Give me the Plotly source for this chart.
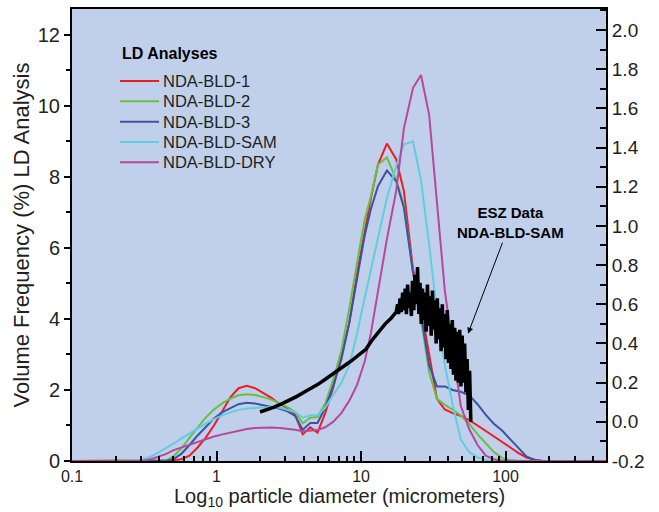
import plotly.graph_objects as go

# Laser-diffraction (LD) size bins, micrometers
diam_um = [0.1, 0.2, 0.3, 0.35, 0.4, 0.45, 0.5, 0.57, 0.65, 0.74, 0.84, 0.96,
           1.1, 1.25, 1.42, 1.62, 1.85, 2.1, 2.4, 2.75, 3.1, 3.5, 3.95, 4.45,
           5.0, 5.65, 6.4, 7.3, 8.3, 9.4, 10.6, 11.7, 13.1, 15.1, 17.5, 19.8,
           22.9, 26.0, 29.6, 33.5, 38, 43, 49, 56, 64, 73, 83, 95, 108, 123,
           140, 160, 182, 210, 250, 500]

# Volume frequency (%) for each LD analysis
bld_1 = [0, 0, 0, 0, 0, 0, 0.02, 0.05, 0.15, 0.38, 0.65, 1.0,
         1.4, 1.8, 2.05, 2.12, 2.05, 1.92, 1.78, 1.6, 1.48, 1.3, 0.75, 0.95,
         0.8, 1.35, 2.05, 2.95, 3.9, 5.3, 6.5, 7.4, 8.35, 8.94, 8.5, 7.6,
         5.4, 4.3, 3.0, 1.75, 1.45, 1.35, 1.27, 1.15, 1.0, 0.85, 0.7, 0.55, 0.38, 0.22,
         0.1, 0.03, 0, 0, 0, 0]
bld_2 = [0, 0, 0, 0, 0, 0.02, 0.12, 0.35, 0.65, 0.95, 1.22, 1.45,
         1.63, 1.76, 1.85, 1.88, 1.86, 1.8, 1.73, 1.62, 1.52, 1.38, 1.06, 1.22,
         1.24, 1.62, 2.27, 3.1, 4.3, 5.6, 6.8, 7.45, 8.35, 8.55, 7.93, 7.2,
         5.3, 4.0, 2.5, 1.75, 1.58, 1.45, 1.28, 1.05, 0.75, 0.5, 0.25, 0.08, 0.02, 0,
         0, 0, 0, 0, 0, 0]
bld_3 = [0, 0, 0, 0, 0, 0.01, 0.05, 0.2, 0.45, 0.72, 0.95, 1.2,
         1.38, 1.5, 1.6, 1.64, 1.62, 1.57, 1.53, 1.47, 1.4, 1.27, 0.88, 1.07,
         1.07, 1.5, 2.1, 2.85, 3.9, 5.1, 6.35, 7.1, 7.74, 8.18, 7.88, 7.13,
         5.3, 4.1, 2.7, 2.1, 2.1, 2.0, 1.95, 1.85, 1.6, 1.3, 1.05, 0.85, 0.6, 0.35,
         0.12, 0.03, 0, 0, 0, 0]
bld_sam = [0, 0, 0.03, 0.12, 0.25, 0.36, 0.48, 0.63, 0.78, 0.92, 1.05, 1.18,
           1.29, 1.37, 1.44, 1.48, 1.5, 1.52, 1.52, 1.5, 1.45, 1.38, 1.22, 1.29,
           1.29, 1.5, 1.85, 2.2, 2.7, 3.6, 4.6, 5.4, 6.35, 7.41, 8.3, 8.92,
           9.0, 7.9, 6.1, 4.2, 2.7, 1.6, 0.6, 0.25, 0.1, 0.03, 0, 0, 0, 0,
           0, 0, 0, 0, 0, 0]
bld_dry = [0, 0, 0, 0.05, 0.13, 0.2, 0.3, 0.38, 0.47, 0.55, 0.62, 0.69,
           0.75, 0.8, 0.85, 0.9, 0.93, 0.94, 0.94, 0.93, 0.91, 0.88, 0.84, 0.86,
           0.87, 0.95, 1.1, 1.35, 1.7, 2.15, 2.8, 3.6, 4.8, 6.25, 7.6, 9.37,
           10.51, 10.87, 9.75, 7.2, 4.8, 3.2, 1.55, 0.9, 0.45, 0.15, 0.05, 0.01, 0, 0,
           0, 0, 0, 0, 0, 0]

ld_names = ["NDA-BLD-1", "NDA-BLD-2", "NDA-BLD-3", "NDA-BLD-SAM", "NDA-BLD-DRY"]
ld_series = [bld_1, bld_2, bld_3, bld_sam, bld_dry]
ld_colors = ["#ED1C24", "#6CBD45", "#3A53A4", "#62CCE0", "#B6489C"]

# Electrical sensing zone (ESZ) measurement of NDA-BLD-SAM (right axis)
esz_um = [2.0, 2.2, 2.5, 2.8, 3.2, 3.6, 4.0, 4.5, 5.0, 5.6, 6.3, 7.0, 7.8, 8.7,
          9.7, 10.8, 12.0, 13.3, 14.7, 16.2,
          17.5, 17.9, 18.2, 18.6, 19.0, 19.4, 19.8, 20.2, 20.6, 21.0, 21.4, 21.8,
          22.3, 22.7, 23.2, 23.6, 24.1, 24.6, 25.1, 25.6, 26.1, 26.6, 27.1, 27.7,
          28.2, 28.8, 29.4, 30.0, 30.6, 31.2, 31.8, 32.4, 33.1, 33.7, 34.4, 35.1,
          35.8, 36.5, 37.2, 38.0, 38.7, 39.5, 40.3, 41.1, 41.9, 42.8, 43.6, 44.5,
          45.4, 46.3, 47.2, 48.2, 49.1, 50.1, 51.1, 52.1, 53.2, 54.2, 55.3, 56.4,
          57.5]
esz_val = [0.05, 0.06, 0.075, 0.09, 0.11, 0.13, 0.15, 0.17, 0.19, 0.215, 0.24, 0.265,
           0.29, 0.315, 0.34, 0.37, 0.42, 0.46, 0.5, 0.53,
           0.56, 0.60, 0.55, 0.63, 0.56, 0.66, 0.57, 0.68, 0.55, 0.70, 0.58, 0.66,
           0.54, 0.72, 0.57, 0.75, 0.60, 0.79, 0.55, 0.71, 0.50, 0.68, 0.52, 0.66,
           0.46, 0.70, 0.49, 0.64, 0.44, 0.67, 0.47, 0.62, 0.40, 0.63, 0.42, 0.58,
           0.36, 0.60, 0.38, 0.55, 0.32, 0.57, 0.30, 0.50, 0.27, 0.52, 0.24, 0.48,
           0.21, 0.46, 0.20, 0.47, 0.18, 0.44, 0.20, 0.40, 0.15, 0.32, 0.06, 0.26,
           0.0]

x_major = [0.1, 1, 10, 100]
x_major_text = ["0.1", "1", "10", "100"]
x_minor = [0.2, 0.3, 0.4, 0.5, 0.6, 0.7, 0.8, 0.9,
           2, 3, 4, 5, 6, 7, 8, 9,
           20, 30, 40, 50, 60, 70, 80, 90,
           200, 300, 400]

FONT = "Liberation Sans, Arial, Helvetica, sans-serif"
TEXT = "#231F20"

fig = go.Figure()
for name, vals, col in zip(ld_names, ld_series, ld_colors):
    fig.add_trace(go.Scatter(x=diam_um, y=vals, mode="lines", name=name,
                             showlegend=False,
                             line=dict(color=col, width=2)))

fig.add_trace(go.Scatter(x=esz_um, y=esz_val, mode="lines", yaxis="y2",
                         showlegend=False, name="ESZ Data",
                         line=dict(color="black", width=3.5)))

# Key for the LD curves, laid out in paper coordinates inside the plot area
key_shapes = []
key_notes = [dict(x=0.09, y=0.901, xref="paper", yref="paper",
                  xanchor="left", yanchor="middle", showarrow=False,
                  text="<b>LD Analyses</b>",
                  font=dict(size=16, color="black"))]
row_top, row_step = 0.8407, 0.0450
for i, (name, col) in enumerate(zip(ld_names, ld_colors)):
    yy = row_top - i * row_step
    key_shapes.append(dict(type="line", xref="paper", yref="paper",
                           x0=0.0899, x1=0.1629, y0=yy, y1=yy,
                           line=dict(color=col, width=2)))
    key_notes.append(dict(x=0.166, y=yy, xref="paper", yref="paper",
                          xanchor="left", yanchor="middle", showarrow=False,
                          text=name, font=dict(size=16.5, color=TEXT)))

# x-axis title, set just beneath the tick labels
x_title = dict(x=0.5, y=-0.0507, xref="paper", yref="paper",
               xanchor="center", yanchor="top", showarrow=False,
               borderpad=0,
               text="Log<sub>10</sub> particle diameter (micrometers)",
               font=dict(size=20, color=TEXT))

fig.update_layout(
    width=659, height=512,
    margin=dict(l=72, r=53, t=7, b=51),
    paper_bgcolor="white",
    plot_bgcolor="#C0D0EA",
    font=dict(family=FONT, color=TEXT, size=16),
    showlegend=False,
    xaxis=dict(
        type="log", range=[-1, 2.695],
        tickvals=x_major, ticktext=x_major_text,
        ticks="inside", ticklen=10, tickwidth=1.5, tickcolor="black",
        minor=dict(tickvals=x_minor, ticks="inside", ticklen=5,
                   tickwidth=1.5, tickcolor="black"),
        showgrid=False, zeroline=False,
        showline=True, linecolor="black", linewidth=2, mirror=True,
        tickfont=dict(size=16),
    ),
    yaxis=dict(
        range=[0, 12.73], tickvals=[0, 2, 4, 6, 8, 10, 12],
        ticks="outside", ticklen=6, tickwidth=1.5, tickcolor="black",
        minor=dict(dtick=1, ticks="outside", ticklen=4, tickwidth=1.5,
                   tickcolor="black"),
        showgrid=False, zeroline=False,
        showline=True, linecolor="black", linewidth=2,
        tickfont=dict(size=20),
        title=dict(text="Volume Frequency (%) LD Analysis",
                   font=dict(size=22), standoff=2),
    ),
    yaxis2=dict(
        overlaying="y", side="right",
        range=[-0.2, 2.107],
        tickvals=[-0.2, 0.0, 0.2, 0.4, 0.6, 0.8, 1.0, 1.2, 1.4, 1.6, 1.8, 2.0],
        ticktext=["-0.2", "0.0", "0.2", "0.4", "0.6", "0.8", "1.0", "1.2",
                  "1.4", "1.6", "1.8", "2.0"],
        ticks="inside", ticklen=10, tickwidth=1.5, tickcolor="black",
        minor=dict(dtick=0.1, tick0=-0.2, ticks="inside", ticklen=6,
                   tickwidth=1.5, tickcolor="black"),
        showgrid=False, zeroline=False,
        showline=True, linecolor="black", linewidth=2,
        tickfont=dict(size=19),
    ),
    shapes=key_shapes,
    annotations=key_notes + [
        x_title,
        dict(x=1.7405, y=0.45, xref="x", yref="y2",
             text="<b>ESZ Data<br>NDA-BLD-SAM</b>", showarrow=True,
             arrowhead=2, arrowsize=1.2, arrowwidth=1, arrowcolor="black",
             ax=42, ay=-111, axref="pixel", ayref="pixel",
             font=dict(size=15, color="black"), align="center"),
    ],
)

fig.write_html("out.html")
